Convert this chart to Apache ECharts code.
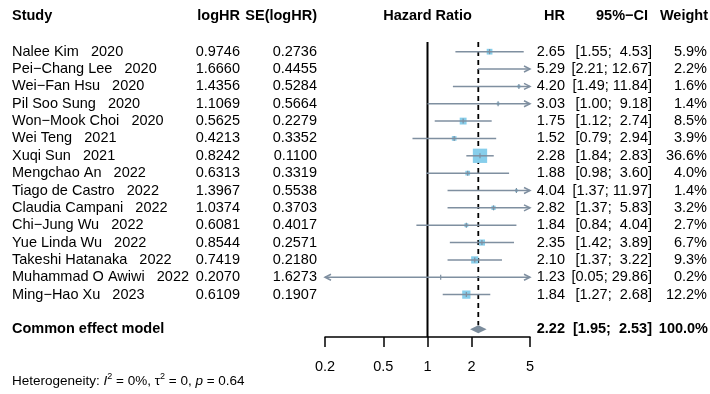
<!DOCTYPE html>
<html><head><meta charset="utf-8">
<script src="https://cdn.jsdelivr.net/npm/echarts@6/dist/echarts.min.js"></script>
<style>html,body{margin:0;padding:0;background:#fff}#c{width:710px;height:394px}</style>
</head><body><div id="c"></div>
<script>
const studies = ["Nalee Kim   2020","Pei\u2212Chang Lee   2020","Wei\u2212Fan Hsu   2020","Pil Soo Sung   2020","Won\u2212Mook Choi   2020","Wei Teng   2021","Xuqi Sun   2021","Mengchao An   2022","Tiago de Castro   2022","Claudia Campani   2022","Chi\u2212Jung Wu   2022","Yue Linda Wu   2022","Takeshi Hatanaka   2022","Muhammad O Awiwi   2022","Ming\u2212Hao Xu   2023"];
const logHR = [0.9746,1.6660,1.4356,1.1069,0.5625,0.4213,0.8242,0.6313,1.3967,1.0374,0.6081,0.8544,0.7419,0.2070,0.6109];
const seLogHR = [0.2736,0.4455,0.5284,0.5664,0.2279,0.3352,0.1100,0.3319,0.5538,0.3703,0.4017,0.2571,0.2180,1.6273,0.1907];
const hr = [2.65,5.29,4.20,3.03,1.75,1.52,2.28,1.88,4.04,2.82,1.84,2.35,2.10,1.23,1.84];
const lower = [1.55,2.21,1.49,1.00,1.12,0.79,1.84,0.98,1.37,1.37,0.84,1.42,1.37,0.05,1.27];
const upper = [4.53,12.67,11.84,9.18,2.74,2.94,2.83,3.60,11.97,5.83,4.04,3.89,3.22,29.86,2.68];
const weight = [5.9,2.2,1.6,1.4,8.5,3.9,36.6,4.0,1.4,3.2,2.7,6.7,9.3,0.2,12.2];
const pooledLabel = "Common effect model";
const pooledHR = [2.22];
const pooledLower = [1.95];
const pooledUpper = [2.53];
const pooledWeight = [100.0];
const xTicks = [0.2,0.5,1,2,5];
const heterogeneity = {I2: "0%", tau2: "0", p: "0.64"};

const FONT = '"Liberation Sans", Arial, sans-serif';
const FS = 14.5;
const LINE = '#7F8FA0';
const SQ = '#87CEEB';
const DIA = '#7B8C9C';
const XMIN = 0.2, XMAX = 5;
const COL = {study:12, logHR:240, se:317, hr:565, ci:652, w:707};

function txt(text, x, y, align, bold) {
  return {type:'text', silent:true, style:{text:text, x:x, y:y, textAlign:align, textVerticalAlign:'middle',
    font:(bold?'bold ':'')+FS+'px '+FONT, fill:'#000'}};
}
function ciStr(lo, hi) {
  return '[' + lo.toFixed(2) + '; ' + hi.toFixed(2).padStart(5,' ') + ']';
}

function renderStudy(params, api) {
  const i = params.dataIndex;
  const y = api.coord([1, i])[1] + 1;
  const lo = Math.max(lower[i], XMIN), hi = Math.min(upper[i], XMAX);
  const xLo = api.coord([lo, i])[0], xHi = api.coord([hi, i])[0];
  const xc = api.coord([hr[i], i])[0];
  const side = 14.3 * Math.sqrt(weight[i] / 36.6);
  const ch = [];
  const inRange = hr[i] >= XMIN && hr[i] <= XMAX;
  if (inRange) ch.push({type:'rect', shape:{x:xc-side/2, y:y-side/2, width:side, height:side}, style:{fill:SQ}});
  ch.push({type:'line', shape:{x1:xLo, y1:y, x2:xHi, y2:y}, style:{stroke:LINE, lineWidth:1.5}});
  if (inRange) ch.push({type:'line', shape:{x1:xc, y1:y-2.5, x2:xc, y2:y+2.5}, style:{stroke:LINE, lineWidth:1.2}});
  if (upper[i] > XMAX) ch.push({type:'polyline', shape:{points:[[xHi-6,y-3],[xHi,y],[xHi-6,y+3]]}, style:{stroke:LINE, lineWidth:1.5, fill:null}});
  if (lower[i] < XMIN) ch.push({type:'polyline', shape:{points:[[xLo+6,y-3],[xLo,y],[xLo+6,y+3]]}, style:{stroke:LINE, lineWidth:1.5, fill:null}});
  ch.push(txt(studies[i], COL.study, y, 'left'));
  ch.push(txt(logHR[i].toFixed(4), COL.logHR, y, 'right'));
  ch.push(txt(seLogHR[i].toFixed(4), COL.se, y, 'right'));
  ch.push(txt(hr[i].toFixed(2), COL.hr, y, 'right'));
  ch.push(txt(ciStr(lower[i], upper[i]), COL.ci, y, 'right'));
  ch.push(txt(weight[i].toFixed(1)+'%', COL.w, y, 'right'));
  return {type:'group', children:ch};
}

function renderPooled(params, api) {
  const row = studies.length + 1;
  const y = api.coord([1, row])[1] + 1;
  const xLo = api.coord([pooledLower[0], row])[0], xHi = api.coord([pooledUpper[0], row])[0];
  const xc = api.coord([pooledHR[0], row])[0];
  const top = api.coord([pooledHR[0], -0.5])[1];
  const ch = [];
  ch.push({type:'line', shape:{x1:xc, y1:top, x2:xc, y2:y-4}, style:{stroke:'#000', lineWidth:1.8, lineDash:[5,4]}});
  ch.push({type:'polygon', shape:{points:[[xLo,y],[xc,y-4],[xHi,y],[xc,y+4]]}, style:{fill:DIA}});
  ch.push(txt(pooledLabel, COL.study, y, 'left', true));
  ch.push(txt(pooledHR[0].toFixed(2), COL.hr, y, 'right', true));
  ch.push(txt(ciStr(pooledLower[0], pooledUpper[0]), COL.ci, y, 'right', true));
  ch.push(txt(pooledWeight[0].toFixed(1)+'%', 708, y, 'right', true));
  return {type:'group', children:ch};
}

function renderRef(params, api) {
  const x = api.coord([1, -0.5])[0];
  const y1 = api.coord([1, -0.5])[1], y2 = api.coord([1, studies.length + 1.5])[1];
  return {type:'line', shape:{x1:x, y1:y1, x2:x, y2:y2}, style:{stroke:'#000', lineWidth:2}};
}

const chart = echarts.init(document.getElementById('c'), null, {renderer:'canvas'});
const headerY = 16;
chart.setOption({
  animation:false,
  backgroundColor:'#fff',
  grid:{left:325, right:180, top:42, bottom:57},
  xAxis:{type:'log', logBase:10, min:XMIN, max:XMAX, position:'bottom',
    axisLine:{onZero:false, lineStyle:{color:'#000', width:1.5}},
    axisTick:{customValues:xTicks, length:10, lineStyle:{color:'#000', width:1.5}},
    axisLabel:{customValues:xTicks, margin:22, fontSize:FS, fontFamily:FONT, color:'#000',
      formatter:v=>String(Number(Number(v).toPrecision(3)))},
    splitLine:{show:false}, minorTick:{show:false}},
  yAxis:{type:'value', inverse:true, min:-0.5, max:studies.length + 1.5, show:false},
  series:[
    {type:'custom', renderItem:renderRef, data:[[1, 0]], silent:true, z:1},
    {type:'custom', renderItem:renderPooled, data:[[pooledHR[0], studies.length+1]], silent:true, z:2},
    {type:'custom', renderItem:renderStudy, data:hr.map((v,i)=>[v,i]), silent:true, z:3}
  ],
  graphic:[
    {type:'text', x:12, y:headerY, style:{text:'Study', textVerticalAlign:'middle', font:'bold '+FS+'px '+FONT, fill:'#000'}},
    {type:'text', x:COL.logHR, y:headerY, style:{text:'logHR', textAlign:'right', textVerticalAlign:'middle', font:'bold '+FS+'px '+FONT, fill:'#000'}},
    {type:'text', x:COL.se, y:headerY, style:{text:'SE(logHR)', textAlign:'right', textVerticalAlign:'middle', font:'bold '+FS+'px '+FONT, fill:'#000'}},
    {type:'text', x:427.5, y:headerY, style:{text:'Hazard Ratio', textAlign:'center', textVerticalAlign:'middle', font:'bold '+FS+'px '+FONT, fill:'#000'}},
    {type:'text', x:COL.hr, y:headerY, style:{text:'HR', textAlign:'right', textVerticalAlign:'middle', font:'bold '+FS+'px '+FONT, fill:'#000'}},
    {type:'text', x:648, y:headerY, style:{text:'95%\u2212CI', textAlign:'right', textVerticalAlign:'middle', font:'bold '+FS+'px '+FONT, fill:'#000'}},
    {type:'text', x:708, y:headerY, style:{text:'Weight', textAlign:'right', textVerticalAlign:'middle', font:'bold '+FS+'px '+FONT, fill:'#000'}},
    {type:'text', x:12, y:381, style:{
      text:'{a|Heterogeneity: }{i|I}{s|2}{a| = '+heterogeneity.I2+', \u03c4}{s|2}{a| = '+heterogeneity.tau2+', }{i|p}{a| = '+heterogeneity.p+'}',
      textVerticalAlign:'middle', fill:'#000',
      rich:{
        a:{fontSize:13.5, fontFamily:FONT, lineHeight:17, fill:'#000'},
        i:{fontSize:13.5, fontFamily:FONT, fontStyle:'italic', lineHeight:17, fill:'#000'},
        s:{fontSize:9, fontFamily:FONT, lineHeight:10, verticalAlign:'top', fill:'#000'}
      }}}
  ]
});
</script></body></html>
